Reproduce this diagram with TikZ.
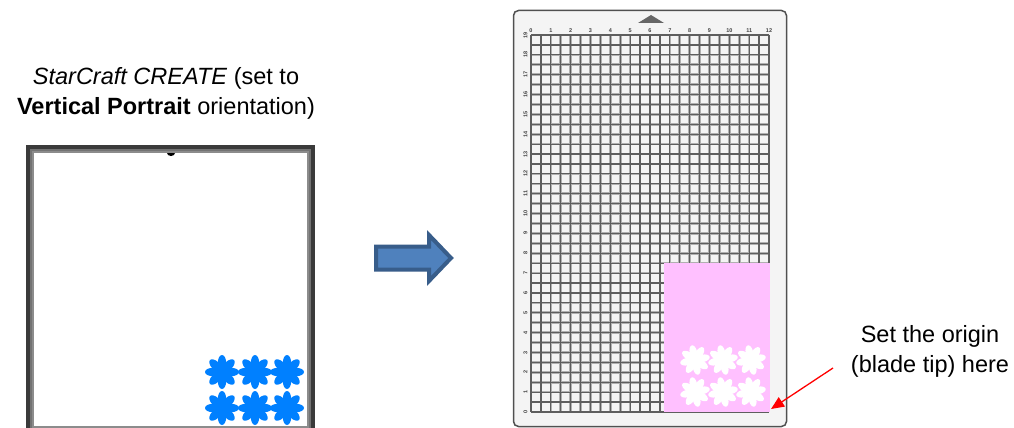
\documentclass[tikz,border=0pt]{standalone}
\usepackage{fontspec}
\setmainfont{Liberation Sans}
\usetikzlibrary{arrows.meta}

\definecolor{framedark}{HTML}{3A3A3A}
\definecolor{framegray}{HTML}{8C8C8C}
\definecolor{flowerblue}{HTML}{0080FF}
\definecolor{matfill}{HTML}{F4F4F4}
\definecolor{matedge}{HTML}{505050}
\definecolor{gridcore}{HTML}{5E5E5E}
\definecolor{gridhalo}{HTML}{B0B0B0}
\definecolor{cutpink}{HTML}{FFC0FF}
\definecolor{arrowfill}{HTML}{4F81BD}
\definecolor{arrowedge}{HTML}{385D8A}

\tikzset{
  caption/.style={font=\fontsize{23.5}{30}\selectfont, align=center, inner sep=0pt},
  ruler/.style={font=\fontsize{5.5}{5.5}\selectfont\bfseries, text=black!75, inner sep=0pt},
  gridhalo/.style={draw=gridhalo, line width=2.6pt},
  gridcore/.style={draw=gridcore, line width=1.2pt},
  % eight-petal flower of radius #1: a disc plus eight elliptic petals
  flower/.pic={
    \path[pic actions] (0,0) circle[radius=0.36*#1];
    \foreach \a in {0,45,...,315}
      \path[pic actions, rotate=\a] (0.52*#1,0) ellipse[x radius=0.48*#1, y radius=0.25*#1];
  },
  pointer/.style={draw=red, line width=1.3pt, -{Triangle[length=13pt,width=11pt]}},
}

\begin{document}
\begin{tikzpicture}[x=1pt, y=-1pt]
\useasboundingbox (0,0) rectangle (1014,428);
\fill[white] (0,0) rectangle (1014,428);

% ---- software page preview (left) ----
\node[caption] (title) at (166,93)
  {\textit{StarCraft CREATE} (set to\\\textbf{Vertical Portrait} orientation)};

\fill[framedark] (26,145) rectangle (315,430);
\fill[black!55] (30,149) rectangle (311,430);
\fill[framegray] (32,151) rectangle (309,428);
\fill[white] (34,153) rectangle (307,426);
\fill[black] (167,153) arc[start angle=180, end angle=0, x radius=4, y radius=3] -- cycle;

\foreach \cx in {222,255,287}
  \foreach \cy in {372,408}
    \pic[fill=flowerblue] at (\cx,\cy) {flower=17};

% ---- block arrow ----
\draw[fill=arrowfill, draw=arrowedge, line width=4pt, line join=miter]
  (376,246.5) -- (429,246.5) -- (429,235) -- (451,258) -- (429,281)
  -- (429,269.5) -- (376,269.5) -- cycle;

% ---- cutting mat (right) ----
\draw[fill=matfill, draw=matedge, line width=1.5pt, rounded corners=5pt]
  (513.5,10.5) rectangle (786.5,426.5);
\fill[black!60] (638,23) -- (651,15) -- (664,23) -- cycle;

% grid: 12 x 19 inches in half-inch cells
\foreach \i in {0,...,24}
  \draw[gridhalo] ({531+\i*9.9167},35) -- ({531+\i*9.9167},412);
\foreach \j in {0,...,38}
  \draw[gridhalo] (531,{35+\j*9.921}) -- (769,{35+\j*9.921});
\foreach \i in {0,...,24}
  \draw[gridcore] ({531+\i*9.9167},35) -- ({531+\i*9.9167},412);
\foreach \j in {0,...,38}
  \draw[gridcore] (531,{35+\j*9.921}) -- (769,{35+\j*9.921});

% ruler numbers
\foreach \i in {0,...,12}
  \node[ruler] at ({531+\i*19.833},30.5) {\i};
\foreach \j in {0,...,19}
  \node[ruler, rotate=90] at (525.5,{412-\j*19.842}) {\j};

% cut area with the flowers
\fill[cutpink] (664,263) rectangle (769.5,412);
\foreach \cx in {695,723,751}
  \foreach \cy in {360,392}
    \pic[fill=white, rotate=12] at (\cx,\cy) {flower=15};

% ---- origin note ----
\node[caption] (note) at (930,351) {Set the origin\\(blade tip) here};
\coordinate (tail) at (833,368);
\coordinate (origin) at (771,409);
\draw[pointer] (tail) -- (origin);
\end{tikzpicture}
\end{document}
